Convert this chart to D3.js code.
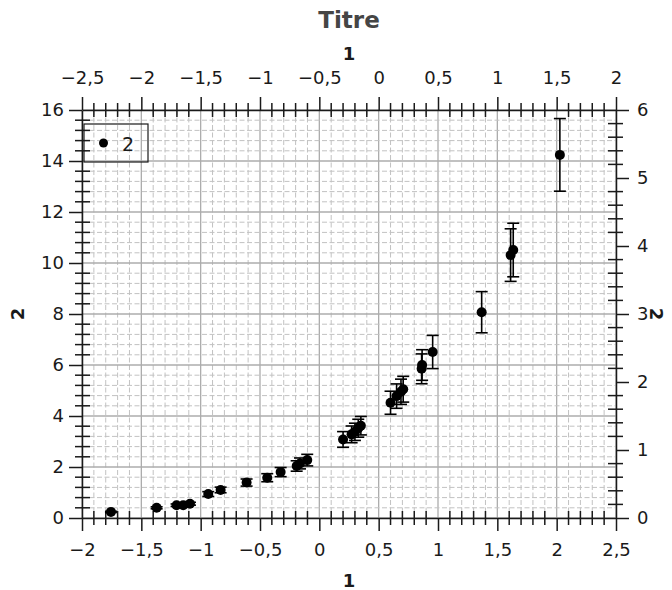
<!DOCTYPE html>
<html><head><meta charset="utf-8">
<script src="https://cdn.jsdelivr.net/npm/d3@7"></script>
<style>body{margin:0;background:#fff}svg{display:block;font-family:"DejaVu Sans",sans-serif}</style>
</head><body><svg id="c" width="672" height="590"></svg>
<script>
const xValues = [-1.756,-1.371,-1.203,-1.147,-1.09,-0.936,-0.832,-0.613,-0.439,-0.326,-0.191,-0.163,-0.102,0.20,0.272,0.30,0.328,0.35,0.60,0.651,0.688,0.707,0.862,0.866,0.955,1.368,1.612,1.634,2.027];
const yValues = [0.24,0.40,0.50,0.50,0.56,0.94,1.10,1.39,1.58,1.80,2.04,2.14,2.27,3.08,3.28,3.38,3.52,3.62,4.52,4.78,4.95,5.05,5.85,6.0,6.51,8.07,10.31,10.51,14.24];
const yErrors = [0.024,0.04,0.05,0.05,0.056,0.094,0.11,0.139,0.158,0.18,0.204,0.214,0.227,0.308,0.328,0.338,0.352,0.362,0.452,0.478,0.495,0.505,0.585,0.60,0.651,0.807,1.031,1.051,1.424];
const bottomTicks = [-2,-1.5,-1,-0.5,0,0.5,1,1.5,2,2.5];
const topTicks = [-2.5,-2,-1.5,-1,-0.5,0,0.5,1,1.5,2];
const leftTicks = [0,2,4,6,8,10,12,14,16];
const rightTicks = [0,1,2,3,4,5,6];
const seriesName = "2";
const titleText = "Titre";
const xLabel = "1", yLabel = "2";

const loc = d3.formatLocale({decimal:",",thousands:" ",grouping:[3],currency:["",""],minus:"\u2212"});
const fmt = loc.format("~g");

const L=82,R=616,T=110,B=518;
const x = d3.scaleLinear([-2,2.5],[L,R]);
const xT = d3.scaleLinear([-2.5,2],[L,R]);
const y = d3.scaleLinear([0,16],[B,T]);
const yR = d3.scaleLinear([0,6],[B,T]);
const svg = d3.select("#c");
const ink="#1a1a1a";
const FS=18;

function range(a,b,s){const r=[];for(let i=0;a+i*s<=b+1e-9;i++)r.push(+(a+i*s).toFixed(6));return r;}
const isMajor=(v,step)=>Math.abs(v/step-Math.round(v/step))<1e-6;

// grid
const g=svg.append("g");
range(-2,2.5,0.1).forEach(v=>{const maj=isMajor(v,0.5);
  g.append("line").attr("x1",x(v)).attr("x2",x(v)).attr("y1",T).attr("y2",B)
   .attr("stroke",maj?"#acacac":"#c2c2c2").attr("stroke-width",maj?1.3:1).attr("stroke-dasharray",maj?null:"5,2.5");});
range(0,16,0.4).forEach(v=>{const maj=isMajor(v,2);
  g.append("line").attr("y1",y(v)).attr("y2",y(v)).attr("x1",L).attr("x2",R)
   .attr("stroke",maj?"#acacac":"#c2c2c2").attr("stroke-width",maj?1.3:1).attr("stroke-dasharray",maj?null:"5,2.5");});

// axes
function styleAxis(sel){sel.select(".domain").attr("stroke",ink).attr("stroke-width",1.5);
  sel.selectAll(".tick line").attr("stroke",ink).attr("stroke-width",1.5);
  sel.selectAll(".tick text").attr("fill",ink).attr("font-size",FS).attr("font-family","DejaVu Sans");}
svg.append("g").attr("transform",`translate(0,${B})`).call(d3.axisBottom(x).tickValues(bottomTicks).tickFormat(fmt).tickSizeInner(13).tickSizeOuter(0).tickPadding(12)).call(styleAxis);
svg.append("g").attr("transform",`translate(0,${T})`).call(d3.axisTop(xT).tickValues(topTicks).tickFormat(fmt).tickSizeInner(13).tickSizeOuter(0).tickPadding(13)).call(styleAxis);
svg.append("g").attr("transform",`translate(${L},0)`).call(d3.axisLeft(y).tickValues(leftTicks).tickFormat(fmt).tickSizeInner(13).tickSizeOuter(0).tickPadding(5)).call(styleAxis);
svg.append("g").attr("transform",`translate(${R},0)`).call(d3.axisRight(yR).tickValues(rightTicks).tickFormat(fmt).tickSizeInner(13).tickSizeOuter(0).tickPadding(8)).call(styleAxis);

// minor ticks
const m=svg.append("g").attr("stroke",ink).attr("stroke-width",1.5);
range(-2,2.5,0.1).filter(v=>!isMajor(v,0.5)).forEach(v=>{m.append("line").attr("x1",x(v)).attr("x2",x(v)).attr("y1",B-7).attr("y2",B+7);});
range(-2.5,2,0.1).filter(v=>!isMajor(v,0.5)).forEach(v=>{m.append("line").attr("x1",xT(v)).attr("x2",xT(v)).attr("y1",T-7).attr("y2",T+7);});
range(0,16,0.4).filter(v=>!isMajor(v,2)).forEach(v=>{m.append("line").attr("y1",y(v)).attr("y2",y(v)).attr("x1",L-7).attr("x2",L+8);});
range(0,6,0.2).filter(v=>!isMajor(v,1)).forEach(v=>{m.append("line").attr("y1",yR(v)).attr("y2",yR(v)).attr("x1",R-8).attr("x2",R+7);});

// data
const data=xValues.map((v,i)=>({x:v,y:yValues[i],e:yErrors[i]}));
const d=svg.append("g");
data.forEach(p=>{
  const cx=x(p.x), y1=y(p.y+p.e), y2=y(p.y-p.e);
  d.append("line").attr("x1",cx).attr("x2",cx).attr("y1",y1).attr("y2",y2).attr("stroke","#000").attr("stroke-width",1.6);
  [y1,y2].forEach(yy=>d.append("line").attr("x1",cx-6).attr("x2",cx+6).attr("y1",yy).attr("y2",yy).attr("stroke","#000").attr("stroke-width",1.6));
  d.append("circle").attr("cx",cx).attr("cy",y(p.y)).attr("r",5).attr("fill","#000");
});

// legend
svg.append("rect").attr("x",84).attr("y",124).attr("width",64).attr("height",38).attr("fill","none").attr("stroke",ink).attr("stroke-width",1.2);
svg.append("circle").attr("cx",103.5).attr("cy",143).attr("r",4.5).attr("fill","#000");
svg.append("text").attr("x",122).attr("y",151).attr("font-size",19).attr("fill",ink).text(seriesName);

// titles
svg.append("text").attr("x",(L+R)/2).attr("y",28).attr("text-anchor","middle").attr("font-size",23).attr("font-weight","bold").attr("fill","#454545").text(titleText);
svg.append("text").attr("x",(L+R)/2).attr("y",60).attr("text-anchor","middle").attr("font-size",FS).attr("font-weight","bold").attr("fill",ink).text(xLabel);
svg.append("text").attr("x",(L+R)/2).attr("y",587).attr("text-anchor","middle").attr("font-size",FS).attr("font-weight","bold").attr("fill",ink).text(xLabel);
svg.append("text").attr("transform",`translate(24,${(T+B)/2}) rotate(-90)`).attr("text-anchor","middle").attr("font-size",FS).attr("font-weight","bold").attr("fill",ink).text(yLabel);
svg.append("text").attr("transform",`translate(650,${(T+B)/2}) rotate(90)`).attr("text-anchor","middle").attr("font-size",FS).attr("font-weight","bold").attr("fill",ink).text(yLabel);
</script></body></html>
